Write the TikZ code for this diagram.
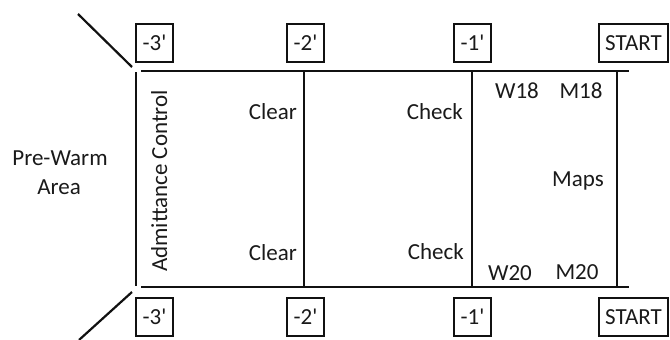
\documentclass[tikz,border=0pt]{standalone}
\usepackage{fontspec}
\setmainfont{Carlito}
\usetikzlibrary{positioning, calc}
\definecolor{cLine}{HTML}{111111}
\definecolor{cText}{HTML}{1A1A1A}
\tikzset{
  marker/.style={draw=cLine, line width=1.8pt, minimum width=37pt, minimum height=38pt,
                 inner xsep=6pt, inner ysep=3pt, text=cText, font=\fontsize{23}{26}\selectfont},
  lane/.style={draw=cLine, line width=2.2pt},
  lbl/.style={inner sep=0pt, text=cText, font=\fontsize{23}{26}\selectfont},
}

\begin{document}
\begin{tikzpicture}[x=1pt, y=-1pt]
  \useasboundingbox (0,0) rectangle (670,340);
  % lane outline
  \coordinate (nw) at (141,71);
  \coordinate (ne) at (629,71);
  \coordinate (sw) at (141,287);
  \coordinate (se) at (629,287);
  \draw[lane] (nw) -- (ne);
  \draw[lane] (sw) -- (se);
  \draw[lane] (136,72) -- (136,286);
  \foreach \xx in {304, 472, 617}{
    \draw[lane] (\xx,71) -- (\xx,287);
  }
  % funnel
  \draw[lane] (78,14) -- (132,67);
  \draw[lane] (132,292) -- (79,340);
  % distance markers
  \foreach \id/\txt/\xx in {3/-3/154.5, 2/-2/305.5, 1/-1/472.5}{
    \node[marker] (top\id) at (\xx,43) {\txt\textquotesingle};
    \node[marker] (bot\id) at (\xx,317) {\txt\textquotesingle};
  }
  \node[marker] (topS) at (633.5,43) {START};
  \node[marker] (botS) at (633.5,317) {START};
  % labels
  \node[lbl, anchor=base] (prewarm) at (60,165) {Pre-Warm};
  \node[lbl, anchor=base] (area) at (59,194) {Area};
  \node[lbl, rotate=90, anchor=base] (admit) at (167,181) {Admittance Control};
  \node[lbl, anchor=base east] (clearT) at (297,119) {Clear};
  \node[lbl, anchor=base east] (clearB) at (297,260.5) {Clear};
  \node[lbl, anchor=base east] (checkT) at (463,119) {Check};
  \node[lbl, anchor=base east] (checkB) at (464,259.5) {Check};
  \node[lbl, anchor=base] (w18) at (517,98) {W18};
  \node[lbl, anchor=base] (m18) at (581,98) {M18};
  \node[lbl, anchor=base] (maps) at (578,186) {Maps};
  \node[lbl, anchor=base] (w20) at (510,280) {W20};
  \node[lbl, anchor=base] (m20) at (577,279) {M20};
\end{tikzpicture}
\end{document}
